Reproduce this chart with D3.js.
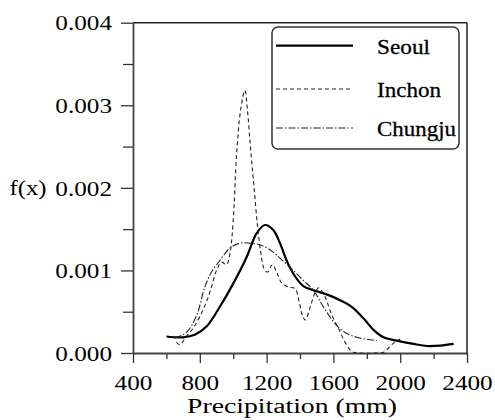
<!DOCTYPE html>
<html>
<head>
<meta charset="utf-8">
<script src="https://d3js.org/d3.v7.min.js"></script>
<style>
  body { margin: 0; background: #fff; }
</style>
</head>
<body>
<script>
// precipitation (mm) and density values
var seoulX = [600, 700, 770, 840, 920, 1000, 1080, 1140, 1190, 1240, 1280, 1320, 1360, 1420, 1480, 1560, 1640, 1710, 1780, 1840, 1900, 1980, 2080, 2160, 2240, 2320];
var seoulY = [0.00020, 0.00019, 0.00022, 0.00032, 0.00056, 0.00084, 0.00116, 0.00145, 0.00155, 0.00149, 0.00133, 0.00112, 0.00096, 0.00081, 0.00076, 0.00071, 0.00064, 0.00056, 0.00042, 0.00028, 0.00019, 0.00015, 0.00011, 0.000085, 0.00009, 0.00011];

var inchonX = [660, 680, 720, 760, 800, 840, 870, 900, 930, 960, 980, 1000, 1020, 1045, 1070, 1085, 1105, 1125, 1145, 1165, 1185, 1205, 1235, 1260, 1290, 1330, 1370, 1395, 1415, 1432, 1460, 1490, 1512, 1550, 1590, 1630, 1670, 1710, 1750, 1850, 1900, 1960, 2000];
var inchonY = [0.00013, 0.00010, 0.00020, 0.00030, 0.00044, 0.00062, 0.00080, 0.00100, 0.00110, 0.00107, 0.00120, 0.00160, 0.00240, 0.00295, 0.00318, 0.00295, 0.00245, 0.00200, 0.00155, 0.00122, 0.00102, 0.00098, 0.00107, 0.00098, 0.00085, 0.00080, 0.00078, 0.00062, 0.00045, 0.00040, 0.00055, 0.00073, 0.00079, 0.00068, 0.00046, 0.00030, 0.00013, 0.00002, 0.0, 0.0, 0.00001, 0.00012, 0.00017];

var chungjuX = [650, 720, 780, 830, 870, 920, 980, 1040, 1100, 1160, 1220, 1280, 1360, 1420, 1480, 1540, 1600, 1660, 1740, 1860];
var chungjuY = [0.00018, 0.00025, 0.00045, 0.00080, 0.00098, 0.00112, 0.00127, 0.00133, 0.00133, 0.00131, 0.00125, 0.00115, 0.00100, 0.00088, 0.00076, 0.00056, 0.00038, 0.00026, 0.00019, 0.00015];

var seriesNames = ["Seoul", "Inchon", "Chungju"];
var xTicks = [400, 800, 1200, 1600, 2000, 2400];
var xMinorTicks = [600, 1000, 1400, 1800, 2200];
var yTicks = [0, 0.001, 0.002, 0.003, 0.004];
var yMinorTicks = [0.0005, 0.0015, 0.0025, 0.0035];

var FONT = "'Liberation Serif'";

var margin = {top: 22.7, right: 28, bottom: 67, left: 133},
    width = 495 - margin.left - margin.right,
    height = 420 - margin.top - margin.bottom;

var svg = d3.select("body").append("svg")
    .attr("width", 495)
    .attr("height", 420)
    .append("g")
    .attr("transform", "translate(" + margin.left + "," + margin.top + ")");

var x = d3.scaleLinear().domain([400, 2400]).range([0, width]);
var y = d3.scaleLinear().domain([0, 0.004]).range([height, 0]);

var series = [
    {name: "Seoul", pts: seoulX.map((v, i) => [v, seoulY[i]]), dash: null, w: 2.2, color: "#000"},
    {name: "Inchon", pts: inchonX.map((v, i) => [v, inchonY[i]]), dash: "4,3", w: 1.1, color: "#222"},
    {name: "Chungju", pts: chungjuX.map((v, i) => [v, chungjuY[i]]), dash: "7,2,1.5,2", w: 1.1, color: "#222"}
];

// stretch a text to the width used by the figure's wide serif face
function fit(sel, perChar) {
    sel.each(function() {
        var t = d3.select(this), s = t.text();
        var w = 0;
        for (var c of s) w += (c === "." ? perChar * 0.5 : perChar);
        t.attr("textLength", w).attr("lengthAdjust", "spacingAndGlyphs");
    });
}

// frame (top and right)
svg.append("line").attr("x1", 0).attr("x2", width).attr("y1", 0).attr("y2", 0)
    .attr("stroke", "#222").attr("stroke-width", 1.5);
svg.append("line").attr("x1", width).attr("x2", width).attr("y1", 0).attr("y2", height)
    .attr("stroke", "#222").attr("stroke-width", 1.5);

// minor ticks
svg.append("g")
    .attr("transform", "translate(0," + height + ")")
    .call(d3.axisBottom(x).tickValues(xMinorTicks).tickSize(6).tickFormat(""))
    .call(g => g.select(".domain").remove())
    .selectAll("line").attr("stroke", "#333").attr("stroke-width", 1.3);
svg.append("g")
    .call(d3.axisLeft(y).tickValues(yMinorTicks).tickSize(10).tickFormat(""))
    .call(g => g.select(".domain").remove())
    .selectAll("line").attr("stroke", "#333").attr("stroke-width", 1.3);

// x axis
var xAxis = svg.append("g")
    .attr("transform", "translate(0," + height + ")")
    .call(d3.axisBottom(x).tickValues(xTicks).tickSize(10).tickSizeOuter(0).tickFormat(d3.format("d")));
xAxis.attr("font-family", null).attr("font-size", null);
xAxis.select(".domain").attr("stroke", "#444").attr("stroke-width", 1.8);
xAxis.selectAll("line").attr("stroke", "#333").attr("stroke-width", 1.3);
xAxis.selectAll("text")
    .attr("y", 37).attr("dy", 0)
    .style("font-family", FONT)
    .style("font-size", "20px")
    .attr("fill", "#000")
    .call(fit, 12.6);

// y axis
var yAxis = svg.append("g")
    .call(d3.axisLeft(y).tickValues(yTicks).tickSize(12).tickSizeOuter(0).tickFormat(d3.format(".3f")));
yAxis.attr("font-family", null).attr("font-size", null);
yAxis.select(".domain").attr("stroke", "#444").attr("stroke-width", 1.8);
yAxis.selectAll("line").attr("stroke", "#333").attr("stroke-width", 1.3);
yAxis.selectAll("text")
    .attr("x", -21).attr("dy", "0.33em")
    .style("font-family", FONT)
    .style("font-size", "22px")
    .attr("fill", "#000")
    .call(fit, 12.6);

// axis titles
svg.append("text")
    .attr("x", 292 - margin.left).attr("y", 413 - margin.top)
    .attr("text-anchor", "middle")
    .style("font-family", FONT)
    .style("font-size", "20px")
    .attr("textLength", 210).attr("lengthAdjust", "spacingAndGlyphs")
    .text("Precipitation (mm)");
svg.append("text")
    .attr("x", 28 - margin.left).attr("y", 195 - margin.top)
    .attr("text-anchor", "middle")
    .style("font-family", FONT)
    .style("font-size", "22px")
    .attr("textLength", 37).attr("lengthAdjust", "spacingAndGlyphs")
    .text("f(x)");

// curves
var line = d3.line()
    .x(d => x(d[0]))
    .y(d => y(d[1]))
    .curve(d3.curveCatmullRom.alpha(0.5));

series.forEach(s => {
    svg.append("path")
        .datum(s.pts)
        .attr("fill", "none")
        .attr("stroke", s.color)
        .attr("stroke-width", s.w)
        .attr("stroke-dasharray", s.dash)
        .attr("d", line);
});

// legend
var legendW = [53, 64, 79];
var legend = svg.append("g")
    .attr("transform", "translate(" + (272 - margin.left) + "," + (27 - margin.top) + ")");
legend.append("rect")
    .attr("width", 187).attr("height", 122)
    .attr("rx", 6).attr("ry", 6)
    .attr("fill", "#fff")
    .attr("stroke", "#333").attr("stroke-width", 1.5);
var rowY = [18.7, 62, 101];
series.forEach((s, i) => {
    legend.append("line")
        .attr("x1", 4).attr("x2", 81)
        .attr("y1", rowY[i]).attr("y2", rowY[i])
        .attr("stroke", s.color)
        .attr("stroke-width", s.w)
        .attr("stroke-dasharray", s.dash);
    legend.append("text")
        .attr("x", 105).attr("y", rowY[i] + 8)
        .style("font-family", FONT)
        .style("font-size", "22px")
        .style("stroke", "#000").style("stroke-width", 0.3)
        .attr("textLength", legendW[i]).attr("lengthAdjust", "spacingAndGlyphs")
        .text(seriesNames[i]);
});
</script>
</body>
</html>
